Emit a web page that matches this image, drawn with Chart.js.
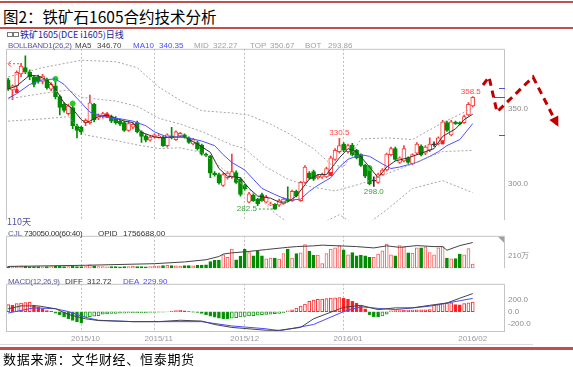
<!DOCTYPE html>
<html>
<head>
<meta charset="utf-8">
<script src="https://cdn.jsdelivr.net/npm/chart.js@4.4.1/dist/chart.umd.min.js"></script>
<style>
  body { margin: 0; width: 573px; height: 367px; background: #fff; position: relative; overflow: hidden;
         font-family: "Liberation Sans", Arial, sans-serif; }
  .abs { position: absolute; white-space: nowrap; }
  canvas { position: absolute; left: 0; }
  .rule { position: absolute; left: 0; width: 573px; background: #c0504d; }
  .t8 { font-size: 8px; line-height: 10px; }
  .tight { letter-spacing: -0.3px; }
</style>
</head>
<body>
<div class="rule" style="top:1px;height:2px"></div>
<div class="abs" style="left:3px;top:6px;font:15.5px 'Noto Sans CJK SC';line-height:20px;color:#000">图2：铁矿石1605合约技术分析</div>
<div class="rule" style="top:27px;height:2px"></div>
<div class="abs" style="left:7px;top:32px;width:4px;height:3px;border:1px solid #777"></div>
<div class="abs" style="left:13px;top:32px;width:4px;height:3px;border:1px solid #777"></div>
<div class="abs" style="left:20px;top:29px;font:9px 'Noto Sans CJK SC';line-height:12px;color:#22229a">铁矿1605(DCE i1605)日线</div>

<canvas id="priceChart" width="573" height="187" style="top:41px"></canvas>
<canvas id="volChart" width="573" height="48" style="top:228px"></canvas>
<canvas id="macdChart" width="573" height="70" style="top:276px"></canvas>

<div class="abs t8 tight" style="left:8px;top:41px;color:#5a5aa0">BOLLBAND1(26,2)</div>
<div class="abs t8" style="left:75px;top:41px;color:#444">MA5</div>
<div class="abs t8" style="left:97px;top:41px;color:#444">346.70</div>
<div class="abs t8" style="left:133px;top:41px;color:#4a4aff">MA10</div>
<div class="abs t8" style="left:159px;top:41px;color:#4a4aff">340.35</div>
<div class="abs t8" style="left:194px;top:41px;color:#a0a0a0">MID</div>
<div class="abs t8" style="left:213px;top:41px;color:#a0a0a0">322.27</div>
<div class="abs t8" style="left:250px;top:41px;color:#a0a0a0">TOP</div>
<div class="abs t8" style="left:270px;top:41px;color:#a0a0a0">350.67</div>
<div class="abs t8" style="left:305px;top:41px;color:#a0a0a0">BOT</div>
<div class="abs t8" style="left:328px;top:41px;color:#a0a0a0">293.86</div>
<div class="abs" style="left:7px;top:216px;font:9px 'Noto Sans CJK SC';line-height:12px;color:#5050a0">110天</div>

<div class="abs t8" style="left:8px;top:229px;color:#5a5aa0">CJL</div>
<div class="abs t8 tight" style="left:24px;top:229px;color:#333">730050.00(60:40)</div>
<div class="abs t8" style="left:98px;top:229px;color:#333">OPID</div>
<div class="abs t8" style="left:123px;top:229px;color:#333">1756688.00</div>

<div class="abs t8 tight" style="left:8px;top:277px;color:#5a5aa0">MACD(12,26,9)</div>
<div class="abs t8" style="left:65px;top:277px;color:#333">DIFF</div>
<div class="abs t8" style="left:87px;top:277px;color:#333">312.72</div>
<div class="abs t8" style="left:123px;top:277px;color:#4a4aff">DEA</div>
<div class="abs t8" style="left:143px;top:277px;color:#4a4aff">229.90</div>

<div class="abs" style="left:0;top:344px;width:533px;height:1px;background:#dadada"></div>
<div class="rule" style="top:347px;height:3px"></div>
<div class="abs" style="left:3px;top:350px;font:13px 'Noto Sans CJK SC';letter-spacing:0.7px;line-height:17px;color:#000">数据来源：文华财经、恒泰期货</div>

<script>
// 日K数据（109个交易日，2015/09 - 2016/02）
const open = [
  369.8,363.0,365.7,373.9,378.0,374.9,371.8,371.8,368.7,369.8,
  363.6,365.7,358.5,353.3,347.1,351.2,338.9,337.9,341.0,341.0,
  353.3,344.0,345.1,345.7,345.1,344.0,342.0,341.0,335.8,337.9,
  341.0,334.8,332.1,329.2,331.3,331.3,331.3,325.5,332.1,329.6,
  332.1,332.7,330.7,326.6,327.6,325.9,319.8,318.3,307.0,306.0,
  298.8,303.9,304.5,307.4,302.9,298.8,287.5,292.2,289.5,292.6,
  287.5,285.6,286.0,285.4,286.4,289.5,288.5,294.7,288.5,300.8,
  307.0,308.0,303.9,304.3,304.5,307.0,316.3,321.4,326.6,321.4,
  325.9,322.4,319.4,312.2,310.1,301.5,300.8,306.0,309.1,319.4,
  323.5,314.2,315.2,317.3,313.2,320.4,325.1,320.4,322.4,326.0,
  326.6,328.6,341.0,332.7,341.4,341.0,341.0,346.1,352.3
];
const close = [
  363.6,365.7,374.9,379.0,374.9,371.8,366.7,368.7,372.4,364.6,
  366.7,358.5,351.2,349.2,352.3,338.9,335.8,334.8,342.5,354.3,
  343.0,346.1,347.1,347.1,342.0,341.0,339.9,335.8,340.3,339.9,
  334.8,331.7,329.2,331.3,332.7,332.1,325.5,332.7,330.7,334.8,
  333.8,331.3,327.6,329.6,323.5,319.8,318.9,307.0,306.0,300.4,
  306.0,307.0,308.0,300.8,292.6,296.3,293.0,288.5,286.4,288.5,
  291.0,286.4,282.8,288.5,289.5,288.5,294.7,291.6,300.8,311.1,
  303.9,302.9,304.9,306.0,310.1,317.3,322.4,325.5,322.4,325.5,
  319.4,317.3,312.2,304.9,299.8,301.5,306.0,309.1,319.8,323.5,
  316.3,317.3,323.5,314.2,319.4,326.6,319.4,324.5,326.6,326.0,
  330.7,341.6,335.8,341.6,340.3,339.9,345.1,353.3,358.0
];
const high = [
  370.8,366.5,375.9,381.0,386.0,376.5,372.5,373.0,373.5,371.0,
  368.0,370.8,359.5,354.5,353.5,352.5,340.0,338.5,343.5,359.5,
  354.0,347.0,348.0,348.0,346.0,345.0,343.0,342.0,342.0,341.0,
  342.0,335.5,333.0,332.0,333.5,333.0,332.0,333.5,337.9,335.5,
  334.5,333.5,331.5,330.5,328.5,326.5,320.5,319.0,308.0,307.0,
  307.0,308.0,319.8,308.5,304.0,299.5,294.0,293.0,290.0,293.5,
  292.0,287.5,286.5,289.5,290.5,297.8,295.5,295.5,301.5,312.0,
  308.0,309.0,306.0,307.0,311.0,318.5,323.5,330.5,327.5,326.5,
  327.0,323.0,320.0,313.0,311.0,304.5,307.0,310.0,320.5,324.5,
  324.5,318.0,325.5,318.0,320.0,327.5,326.0,325.5,330.7,328.0,
  331.5,342.5,342.0,342.5,342.0,341.5,346.0,354.5,358.5
];
const low = [
  362.6,356.4,363.0,372.0,373.9,370.0,365.0,367.5,367.0,363.5,
  362.5,357.0,346.1,348.0,346.0,336.9,330.7,333.0,339.0,340.0,
  341.5,343.0,344.0,345.0,341.0,340.0,339.0,335.0,335.0,337.0,
  334.0,327.6,328.0,328.5,330.5,330.5,325.0,324.5,330.0,329.0,
  331.5,330.5,327.0,326.0,322.5,319.0,318.0,303.9,305.0,299.5,
  298.0,303.0,303.5,300.0,291.5,295.5,287.0,288.0,285.0,288.0,
  287.0,285.0,282.5,284.5,286.0,288.0,288.0,291.0,288.0,300.0,
  303.0,302.0,303.0,303.5,304.0,306.0,315.5,320.5,321.5,320.5,
  318.5,316.5,311.5,304.0,299.0,298.0,300.0,305.5,308.5,318.5,
  315.5,313.5,314.5,313.5,312.5,319.5,318.5,319.5,321.5,325.0,
  326.0,328.0,335.0,332.0,339.8,339.5,340.5,345.5,351.5
];

// 均线与布林带：[交易日序号, 数值]
const ma5Pts = [[0,363.6],[2,365.7],[5,372.9],[7,372.4],[9,369.8],[11,363.6],[13,354.3],[15,350.2],[17,343],[18,341],[19,342],[21,345.1],[23,346.1],[25,344],[27,342],[29,341],[31,334.5],[34,331.3],[36,330.7],[38,331.3],[41,331.3],[44,326.6],[47,321],[49,310.1],[51,304.9],[54,303.9],[56,296.7],[58,291.6],[61,290.1],[63,287.5],[65,287.5],[67,291.6],[70,302.9],[72,306],[74,306],[77,317.3],[79,323.5],[81,321.4],[84,311.1],[86,303.9],[88,311.1],[90,315.2],[93,317.3],[96,320.4],[99,323.5],[101,331.7],[104,336.8],[106,343],[108,346.7]];
const ma10Pts = [[0,357.4],[2,360.5],[5,366.7],[8,369.8],[11,370.4],[13,366.7],[15,360.5],[17,354.3],[19,348.1],[22,345.1],[24,344],[26,343.6],[29,342],[32,338.9],[34,334.8],[37,331.3],[41,331.3],[45,328.6],[48,325.5],[50,319.4],[52,314.2],[55,309.1],[57,302.9],[59,296.7],[62,292.6],[64,290.1],[66,288.9],[68,289.5],[70,294.7],[72,298.8],[75,303.9],[77,311.1],[79,316.3],[82,319.4],[84,318.3],[87,313.2],[89,310.1],[91,311.1],[95,314.2],[98,318.3],[100,321.4],[102,325.5],[105,329.6],[108,340.35]];
const topPts = [[0,371.8],[8,378],[17,383],[25,382],[30,378],[35,365],[40,356],[45,349],[52,347.5],[56,346],[61,340],[65,334],[71,323.5],[75,313],[78,311],[82,330],[88,330.7],[94,329.6],[101,341],[108,350.67]];
const midPts = [[0,356.9],[8,360.7],[14,363],[17,358],[25,355.5],[30,352],[35,344],[40,340],[45,335],[52,326],[55,323.5],[60,311],[65,303],[70,298],[76,295],[82,299.8],[88,306.5],[94,313.2],[101,321.5],[108,322.27]];
const botPts = [[0,342],[8,343.5],[14,345],[18,332.7],[25,329],[30,326],[35,323.5],[40,324],[45,321],[52,305],[56,296],[59,288.5],[62,280],[66,272],[71,270.5],[77,279],[82,269.6],[88,282.3],[94,296.7],[101,301.9],[108,293.86]];
// 信号标记
const buyIdx = [2, 23, 75, 101];
const buyVal = [362.2, 345.7, 306.4, 327.6];
const sellIdx = [11, 15, 84];
const sellVal = [370.4, 353.9, 310.4];

// 成交量（万手）与持仓量（万手）
const volume = [
  30,35,38,40,35,30,28,30,25,28,
  30,32,35,30,28,35,30,28,30,58,
  40,30,28,25,28,30,25,28,30,35,
  30,28,25,30,35,40,45,50,45,40,
  35,45,45,40,50,55,60,115,135,140,
  230,190,330,145,205,330,270,215,290,215,
  160,175,175,156,253,331,175,253,265,408,
  292,222,226,78,253,331,350,389,319,233,
  272,214,226,214,187,190,245,300,416,233,
  214,389,370,265,261,350,350,370,272,233,
  350,373,175,163,167,245,233,338,73
];
const opidPts = [[0,12],[18,20],[34,31],[41,43],[46,58],[49,80],[50,97],[52,105],[56,115],[60,128],[65,143],[67,148],[71,153],[73,158],[77,153],[81,148],[85,139],[88,153],[91,143],[95,155],[99,148],[101,148],[102,123],[105,155],[108,175.7]];

// MACD
const macdHist = [
  125,115,140,150,160,165,115,85,55,20,
  8,-25,-55,-90,-120,-150,-175,-195,-95,-85,
  -75,-65,-40,-35,-30,-28,-25,-22,-20,-18,
  -16,-15,-14,-12,-10,-8,-6,-4,10,20,
  28,15,5,-5,-12,-30,-50,-75,-95,-110,
  -120,-125,-110,-100,-90,-80,-72,-65,-58,-52,
  -46,-40,-34,-28,-15,15,35,64,99,133,
  180,200,215,220,225,235,240,245,230,215,
  180,150,100,50,-50,-85,-90,-70,-40,15,
  20,22,25,28,30,32,33,35,36,110,
  125,140,150,155,125,120,140,155,165.6
];
const diffPts = [[0,52],[3,101],[7,101],[11,52],[14,-47],[18,-121],[21,-151],[29,-170],[35,-170],[40,-146],[45,-160],[48,-219],[52,-269],[60,-318],[63,-318],[68,-269],[71,-121],[78,77],[82,111],[86,37],[90,67],[94,67],[98,111],[102,151],[105,234],[108,312.72]];
const deaPts = [[0,-22],[6,67],[11,52],[14,3],[18,-96],[21,-146],[29,-170],[45,-170],[52,-244],[60,-293],[63,-328],[71,-219],[78,3],[82,86],[86,59],[90,37],[98,96],[108,229.9]];

// 坐标轴
const slotCount = 116;
const dayLabels = Array.from({length: slotCount}, (_, i) => String(i + 1));
const monthGridIdx = [17, 34, 55, 78];
const monthTickIdx = [18, 35, 55, 79, 108];
const monthTickText = ['2015/10', '2015/11', '2015/12', '2016/01', '2016/02'];
const priceTicks = [300, 350];
const volTicks = [210];
const macdTicks = [200, 0, -200];

const RED = '#ff3c3c', GREEN = '#008c00', DARK = '#333333';
const dir = open.map((o, i) => close[i] > o ? 1 : (close[i] < o ? -1 : 0));
const lineColor = dir.map(d => d > 0 ? RED : (d < 0 ? GREEN : DARK));
const bodyFill = dir.map(d => d > 0 ? '#ffffff' : (d < 0 ? GREEN : DARK));

function fromPts(pts) {
  const arr = new Array(slotCount).fill(null);
  pts.forEach(([i, v]) => { arr[i] = v; });
  return arr;
}

const FONT = {family: '"Liberation Sans", Arial, sans-serif', size: 8};

function xScale(showLabels) {
  return {
    type: 'category',
    labels: dayLabels,
    offset: true,
    grid: {
      offset: false,
      drawTicks: false,
      color: ctx => monthGridIdx.includes(ctx.index) ? '#bdbdbd' : 'rgba(0,0,0,0)'
    },
    border: {display: false, dash: [2, 2]},
    ticks: {
      display: showLabels,
      autoSkip: false,
      maxRotation: 0,
      padding: 2,
      color: '#9a9a9a',
      font: FONT,
      callback: (v, i) => {
        const k = monthTickIdx.indexOf(i);
        return k >= 0 ? monthTickText[k] : '';
      }
    },
    afterFit: s => { s.height = showLabels ? 14 : 0; }
  };
}

function yScale(min, max, ticks, fmt) {
  return {
    position: 'right',
    min, max,
    grid: {display: false, drawTicks: false},
    border: {display: false},
    ticks: {color: '#8c8c8c', font: FONT, padding: 3, callback: fmt},
    afterBuildTicks: s => { s.ticks = ticks.map(v => ({value: v})); },
    afterFit: s => { s.width = 68; }
  };
}

function framePlugin(withBottom) {
  return {
    id: 'frame',
    afterDraw(chart) {
      const {ctx, chartArea: a} = chart;
      ctx.save();
      ctx.strokeStyle = '#c4c4c4';
      ctx.lineWidth = 1;
      ctx.beginPath();
      ctx.moveTo(a.left + 0.5, a.bottom);
      ctx.lineTo(a.left + 0.5, a.top + 0.5);
      ctx.lineTo(a.right - 0.5, a.top + 0.5);
      ctx.lineTo(a.right - 0.5, a.bottom);
      if (withBottom) {
        ctx.moveTo(a.left, a.bottom - 0.5);
        ctx.lineTo(a.right, a.bottom - 0.5);
      }
      ctx.stroke();
      ctx.restore();
    }
  };
}

const baseOpts = {
  responsive: false,
  animation: false,
  devicePixelRatio: 1,
  layout: {padding: {left: 6, right: 0, top: 0, bottom: 0}},
  plugins: {legend: {display: false}, tooltip: {enabled: false}}
};

function lineSet(data, color, axis, dash) {
  return {
    type: 'line', data, yAxisID: axis, borderColor: color, borderWidth: 1,
    borderDash: dash || [], pointRadius: 0, spanGaps: true, tension: 0, order: 0
  };
}

// 价格图标注
const priceMarks = {
  id: 'priceMarks',
  afterDraw(chart) {
    const {ctx} = chart;
    const xs = chart.scales.x, ys = chart.scales.y;
    const px = i => xs.getPixelForValue(i);
    const py = v => ys.getPixelForValue(v);
    ctx.save();
    ctx.font = '8px "Liberation Sans", Arial, sans-serif';
    ctx.textAlign = 'center';
    ctx.textBaseline = 'bottom';
    ctx.fillStyle = '#ff4a4a';
    ctx.fillText('358.5', px(108) - 2, py(358.5) - 1);
    ctx.fillText('330.5', px(77), py(330.5) - 1);
    ctx.fillStyle = '#3fa03f';
    ctx.textBaseline = 'top';
    ctx.fillText('298.0', px(85), py(298.0) + 1);
    ctx.textAlign = 'right';
    ctx.textBaseline = 'middle';
    ctx.fillText('282.5', px(62) - 18, py(282.5) - 1);
    ctx.strokeStyle = '#3fa03f';
    ctx.setLineDash([2, 2]);
    ctx.beginPath();
    ctx.moveTo(px(62) - 16, py(282.5) - 0.5);
    ctx.lineTo(px(62) - 2, py(282.5) - 0.5);
    ctx.stroke();
    // 左上角最高价箭头
    ctx.strokeStyle = '#ff4a4a';
    ctx.beginPath();
    ctx.moveTo(px(3) - 2, py(381) + 0.5);
    ctx.lineTo(chart.chartArea.left + 2, py(381) + 0.5);
    ctx.stroke();
    ctx.setLineDash([]);
    ctx.beginPath();
    ctx.moveTo(chart.chartArea.left + 5, py(381) - 2.5);
    ctx.lineTo(chart.chartArea.left + 2, py(381) + 0.5);
    ctx.lineTo(chart.chartArea.left + 5, py(381) + 3.5);
    ctx.stroke();
    // 右侧刻度标记
    ctx.strokeStyle = '#5050d8';
    [[364.2, 6], [358.0, 11], [332.7, 6]].forEach(([v, w]) => {
      ctx.beginPath();
      ctx.moveTo(chart.chartArea.right - w, Math.round(py(v)) + 0.5);
      ctx.lineTo(chart.chartArea.right, Math.round(py(v)) + 0.5);
      ctx.stroke();
    });
    // 走势预判红色虚线箭头（图外注释）
    const top = chart.canvas.offsetTop;
    const path = [[483, 85], [489, 77], [497, 112], [533, 77], [557, 124]].map(([x, y]) => [x, y - top]);
    ctx.strokeStyle = '#c00000';
    ctx.lineWidth = 3;
    ctx.setLineDash([7, 5]);
    ctx.beginPath();
    ctx.moveTo(path[0][0], path[0][1]);
    path.slice(1).forEach(([x, y]) => ctx.lineTo(x, y));
    ctx.stroke();
    ctx.setLineDash([]);
    const [ax, ay] = path[path.length - 1], [bx, by] = path[path.length - 2];
    const ang = Math.atan2(ay - by, ax - bx);
    ctx.fillStyle = '#c00000';
    ctx.beginPath();
    ctx.moveTo(ax + 3 * Math.cos(ang), ay + 3 * Math.sin(ang));
    ctx.lineTo(ax - 7 * Math.cos(ang) + 5 * Math.sin(ang), ay - 7 * Math.sin(ang) - 5 * Math.cos(ang));
    ctx.lineTo(ax - 7 * Math.cos(ang) - 5 * Math.sin(ang), ay - 7 * Math.sin(ang) + 5 * Math.cos(ang));
    ctx.closePath();
    ctx.fill();
    ctx.restore();
  }
};

new Chart(document.getElementById('priceChart'), {
  type: 'bar',
  data: {
    labels: dayLabels,
    datasets: [
      {data: high.map((h, i) => [low[i], h]), backgroundColor: lineColor, barThickness: 1, grouped: false, order: 3},
      {data: open.map((o, i) => [o, close[i]]), backgroundColor: bodyFill, borderColor: lineColor, borderWidth: 1,
       borderSkipped: false, barThickness: 4, grouped: false, minBarLength: 1, order: 2},
      lineSet(fromPts(topPts), '#a6a6a6', 'y', [2, 2]),
      lineSet(fromPts(midPts), '#a6a6a6', 'y', [2, 2]),
      lineSet(fromPts(botPts), '#a6a6a6', 'y', [2, 2]),
      lineSet(fromPts(ma10Pts), '#5050ff', 'y'),
      lineSet(fromPts(ma5Pts), '#333333', 'y'),
      {type: 'line', data: fromPts(buyIdx.map((i, k) => [i, buyVal[k]])), showLine: false, pointStyle: 'rect',
       pointRadius: 2, backgroundColor: '#ff1a1a', borderColor: '#ff1a1a', order: 0},
      {type: 'line', data: fromPts(sellIdx.map((i, k) => [i, sellVal[k]])), showLine: false, pointStyle: 'circle',
       pointRadius: 2.5, backgroundColor: '#22cc22', borderColor: '#22cc22', order: 0}
    ]
  },
  options: {
    ...baseOpts,
    scales: {
      x: xScale(false),
      y: yScale(275.3, 390.7, priceTicks, v => v.toFixed(1))
    }
  },
  plugins: [framePlugin(false), priceMarks]
});

const cornerMark = {
  id: 'cornerMark',
  afterDraw(chart) {
    const {ctx, chartArea: a} = chart;
    ctx.save();
    ctx.fillStyle = '#a0a0a0';
    ctx.beginPath();
    ctx.moveTo(a.right - 7, a.top + 1);
    ctx.lineTo(a.right - 1, a.top + 1);
    ctx.lineTo(a.right - 1, a.top + 7);
    ctx.closePath();
    ctx.fill();
    ctx.restore();
  }
};

new Chart(document.getElementById('volChart'), {
  type: 'bar',
  data: {
    labels: dayLabels,
    datasets: [
      {data: volume, backgroundColor: dir.map(d => d < 0 ? GREEN : '#ffffff'),
       borderColor: dir.map(d => d < 0 ? GREEN : '#ff5a5a'), borderWidth: 1, borderSkipped: false,
       barThickness: 3, order: 2},
      {type: 'line', data: fromPts(opidPts), yAxisID: 'yo', borderColor: '#444', borderWidth: 1,
       pointRadius: 0, spanGaps: true, order: 0}
    ]
  },
  options: {
    ...baseOpts,
    scales: {
      x: xScale(false),
      y: yScale(0, 560, volTicks, v => v + '万'),
      yo: {display: false, min: 0, max: 222}
    }
  },
  plugins: [framePlugin(false), cornerMark]
});

const histFill = macdHist.map((v, i) => {
  const prev = i > 0 ? macdHist[i - 1] : v;
  if (v >= 0) return v >= prev ? '#ffffff' : '#ff1a1a';
  return v <= prev ? GREEN : '#ffffff';
});
const histBorder = macdHist.map(v => v >= 0 ? '#ff2a2a' : '#1a9a1a');

new Chart(document.getElementById('macdChart'), {
  type: 'bar',
  data: {
    labels: dayLabels,
    datasets: [
      {data: macdHist, backgroundColor: histFill, borderColor: histBorder, borderWidth: 1,
       borderSkipped: false, barThickness: 3, order: 2},
      lineSet(fromPts(diffPts), '#444444', 'y'),
      lineSet(fromPts(deaPts), '#4a4aff', 'y')
    ]
  },
  options: {
    ...baseOpts,
    scales: {
      x: xScale(true),
      y: yScale(-348, 481, macdTicks, v => v.toFixed(1))
    }
  },
  plugins: [framePlugin(true)]
});
</script>
</body>
</html>
